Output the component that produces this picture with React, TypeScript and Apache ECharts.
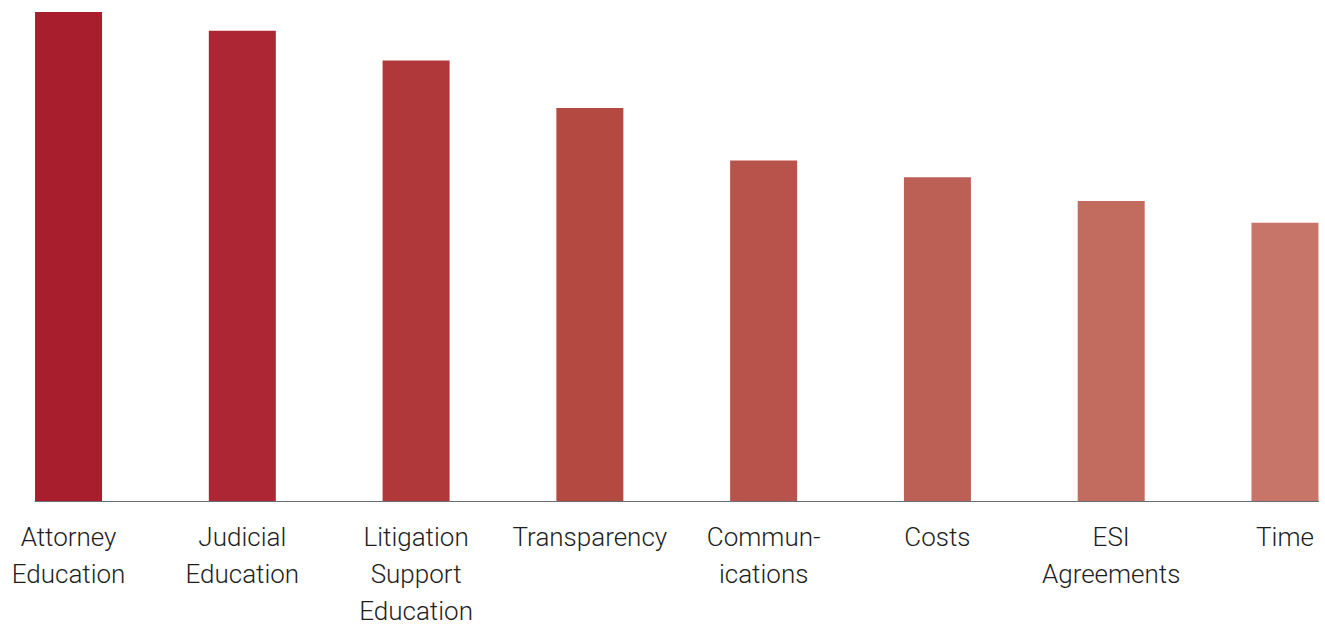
import React, { useEffect, useRef } from "react";
import * as echarts from "echarts";

const categories = [
  "Attorney\nEducation",
  "Judicial\nEducation",
  "Litigation\nSupport\nEducation",
  "Transparency",
  "Commun-\nications",
  "Costs",
  "ESI\nAgreements",
  "Time",
];
const values = [98.8, 95.0, 89.0, 79.4, 68.8, 65.4, 60.6, 56.2];
const barColors = [
  "#A91E2D",
  "#AC2733",
  "#B0383A",
  "#B44941",
  "#B8534B",
  "#BC6055",
  "#C16C5F",
  "#C67568",
];
const positions = [0, 1, 2, 3, 4, 5, 6, 7];

export default function App() {
  const ref = useRef<HTMLDivElement>(null);
  useEffect(() => {
    if (!ref.current) return;
    const chart = echarts.init(ref.current, null, { renderer: "svg" });
    chart.setOption({
      animation: false,
      grid: { left: 35, right: 6.5, top: 6, bottom: 123, containLabel: false },
      xAxis: {
        type: "value",
        min: -0.193,
        max: 7.193,
        splitLine: { show: false },
        axisLine: { show: true, onZero: false, lineStyle: { color: "#6b6b73", width: 1 } },
        axisTick: { show: false },
        axisLabel: {
          customValues: positions,
          formatter: (v: number) => categories[Math.round(v)],
          color: "#1e1e1e",
          fontFamily: "Roboto",
          fontWeight: 300,
          fontSize: 26,
          lineHeight: 37,
          margin: 17,
          align: "center",
          verticalAlign: "top",
          showMinLabel: true,
          showMaxLabel: true,
        },
      },
      yAxis: {
        type: "value",
        min: 0,
        max: 100,
        show: false,
      },
      series: [
        {
          type: "bar",
          barWidth: 67,
          data: values.map((v, i) => ({
            value: [positions[i], v],
            itemStyle: { color: barColors[i] },
          })),
        },
      ],
    });
    return () => chart.dispose();
  }, []);
  return <div ref={ref} style={{ width: 1325, height: 629, position: "absolute", left: 0, top: 0 }} />;
}
